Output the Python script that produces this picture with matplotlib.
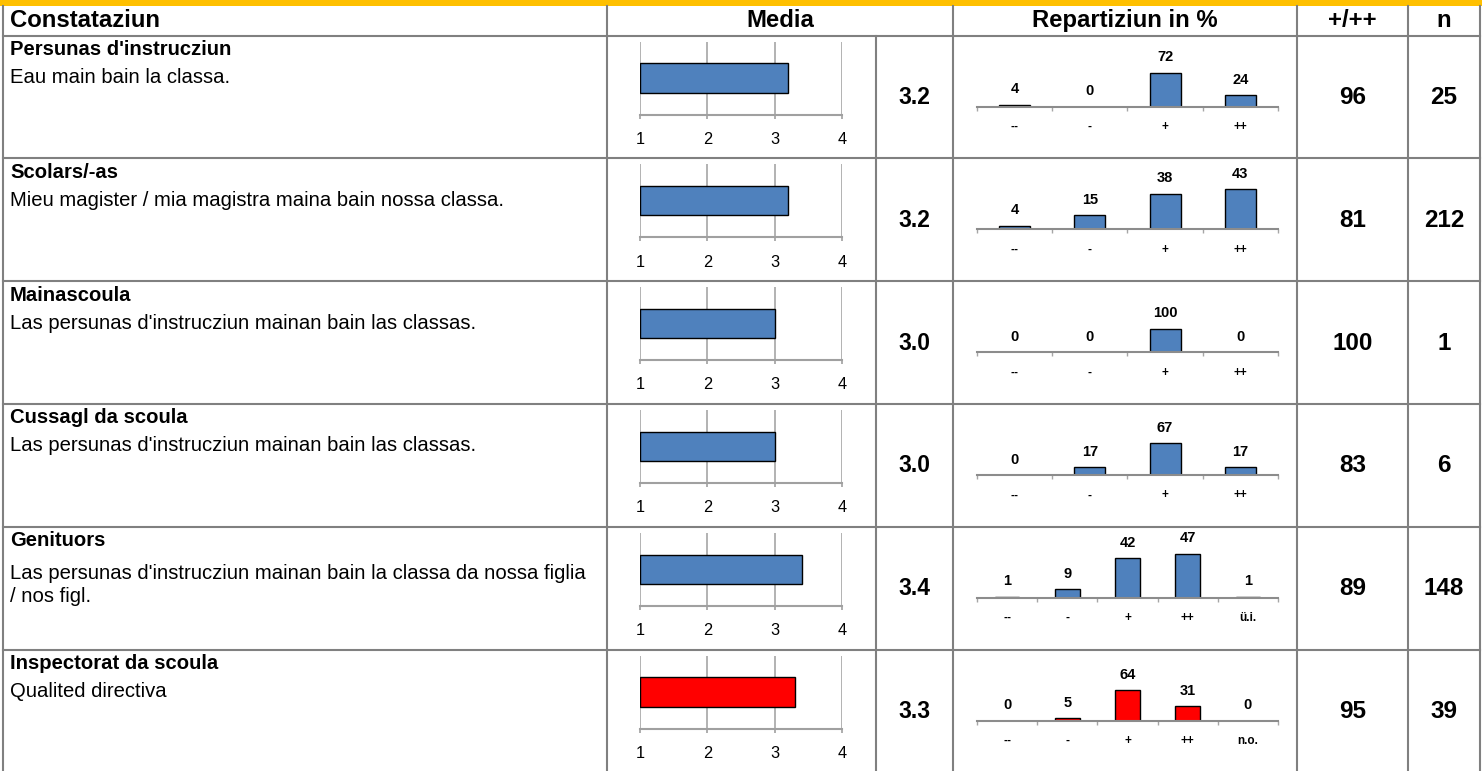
import matplotlib
matplotlib.use("Agg")
import matplotlib.pyplot as plt

plt.rcParams['font.family'] = ['Liberation Sans', 'DejaVu Sans']

# Tabella: constataziun, media e repartiziun
groups = ["Persunas d'instrucziun", "Scolars/-as", "Mainascoula",
          "Cussagl da scoula", "Genituors", "Inspectorat da scoula"]
statements = [
    "Eau main bain la classa.",
    "Mieu magister / mia magistra maina bain nossa classa.",
    "Las persunas d'instrucziun mainan bain las classas.",
    "Las persunas d'instrucziun mainan bain las classas.",
    "Las persunas d'instrucziun mainan bain la classa da nossa figlia\n/ nos figl.",
    "Qualited directiva",
]
means = [3.2, 3.2, 3.0, 3.0, 3.4, 3.3]
categories = [
    ["--", "-", "+", "++"],
    ["--", "-", "+", "++"],
    ["--", "-", "+", "++"],
    ["--", "-", "+", "++"],
    ["--", "-", "+", "++", "ü.i."],
    ["--", "-", "+", "++", "n.o."],
]
shares = [
    [4, 0, 72, 24],
    [4, 15, 38, 43],
    [0, 0, 100, 0],
    [0, 17, 67, 17],
    [1, 9, 42, 47, 1],
    [0, 5, 64, 31, 0],
]
positive = [96, 81, 100, 83, 89, 95]
n_answers = [25, 212, 1, 6, 148, 39]
headers = ["Constataziun", "Media", "Repartiziun in %", "+/++", "n"]

W, H = 1482, 771
BLUE = "#4F81BD"
RED = "#FF0000"
GRID = "#808080"
bar_colors = [BLUE] * 5 + [RED]

fig = plt.figure(figsize=(W / 100, H / 100), dpi=100)
fig.patch.set_facecolor("white")


def px_axes(x0, y0, x1, y1):
    return fig.add_axes([x0 / W, 1 - y1 / H, (x1 - x0) / W, (y1 - y0) / H])


tab = px_axes(0, 0, W, H)
tab.set_xlim(0, W)
tab.set_ylim(H, 0)
tab.axis("off")

# column borders
col_x = [3, 607, 876, 953, 1297, 1408, 1480]
head_bottom = 35.5
row_h = 122.8
row_tops = [head_bottom + i * row_h for i in range(len(groups))]

tab.fill_between([0, W], 0, 6, color="#FFC000", lw=0)
for x in col_x:
    y_start = head_bottom if x == 876 else 6
    tab.plot([x, x], [y_start, H], color=GRID, lw=1.5)
for y in [head_bottom] + [t + row_h for t in row_tops[:-1]]:
    tab.plot([col_x[0], col_x[-1]], [y, y], color=GRID, lw=1.5)

# header
head_kw = dict(fontsize=17.2, fontweight="bold", va="center")
tab.text(10, 20.5, headers[0], ha="left", **head_kw)
tab.text((607 + 953) / 2, 20.5, headers[1], ha="center", **head_kw)
tab.text((953 + 1297) / 2, 20.5, headers[2], ha="center", **head_kw)
tab.text((1297 + 1408) / 2, 20.5, headers[3], ha="center", **head_kw)
tab.text((1408 + 1480) / 2, 20.5, headers[4], ha="center", **head_kw)

for i, top in enumerate(row_tops):
    tab.text(10, top + 14, groups[i], fontsize=14.6, fontweight="bold",
             ha="left", va="center")
    lines = statements[i].split("\n")
    first = 42 if len(lines) == 1 else 47
    for k, line in enumerate(lines):
        tab.text(10, top + first + k * 23, line, fontsize=14.6,
                 ha="left", va="center")

    mid = top + 62
    tab.text((876 + 953) / 2, mid, f"{means[i]:.1f}", fontsize=16.5,
             fontweight="bold", ha="center", va="center")
    tab.text((1297 + 1408) / 2, mid, str(positive[i]), fontsize=17.5,
             fontweight="bold", ha="center", va="center")
    tab.text((1408 + 1480) / 2, mid, str(n_answers[i]), fontsize=17.5,
             fontweight="bold", ha="center", va="center")

    # Media: barra orizontala 1..4
    axm = px_axes(640, top + 6, 842, top + 79)
    axm.barh(0, means[i] - 1, left=1, height=0.4, color=bar_colors[i],
             edgecolor="black", lw=1, zorder=3)
    axm.set_xlim(1, 4)
    axm.set_ylim(-0.5, 0.5)
    axm.set_xticks([1, 2, 3, 4])
    axm.set_yticks([])
    axm.grid(axis="x", color="#a6a6a6", lw=1.2)
    for s in ["top", "left", "right"]:
        axm.spines[s].set_visible(False)
    axm.spines["bottom"].set_color("#a0a0a0")
    axm.spines["bottom"].set_linewidth(1.5)
    axm.tick_params(axis="x", length=3, color="#a0a0a0", width=1.2,
                    labelsize=11.8, pad=9.5)
    axm.patch.set_alpha(0)

    # Repartiziun in %
    vals = shares[i]
    cats = categories[i]
    ymax = min(v for v in (50, 100, 200) if v > max(vals))
    axd = px_axes(977, top + 71 - 47, 1278, top + 71)
    xs = range(len(vals))
    axd.bar(xs, vals, width=0.41, color=bar_colors[i], edgecolor="black",
            lw=1, zorder=2)
    for x, v in zip(xs, vals):
        axd.annotate(str(v), (x, v), xytext=(0, 11), textcoords="offset points",
                     ha="center", va="center", fontsize=10.5, fontweight="bold")
    axd.set_xlim(-0.5, len(vals) - 0.5)
    axd.set_ylim(0, ymax)
    axd.set_yticks([])
    axd.set_xticks(list(xs))
    axd.set_xticklabels(cats, fontsize=8.5, fontweight="bold")
    axd.set_xticks([x - 0.5 for x in range(len(vals) + 1)], minor=True)
    axd.tick_params(axis="x", which="major", length=0, pad=10.5)
    axd.tick_params(axis="x", which="minor", length=3, color="#a6a6a6", width=1)
    for s in ["top", "left", "right"]:
        axd.spines[s].set_visible(False)
    axd.spines["bottom"].set_color("#8c8c8c")
    axd.spines["bottom"].set_linewidth(1.5)
    axd.spines["bottom"].set_zorder(3)
    axd.patch.set_alpha(0)

fig.savefig("out.png", dpi=100, facecolor="white")
